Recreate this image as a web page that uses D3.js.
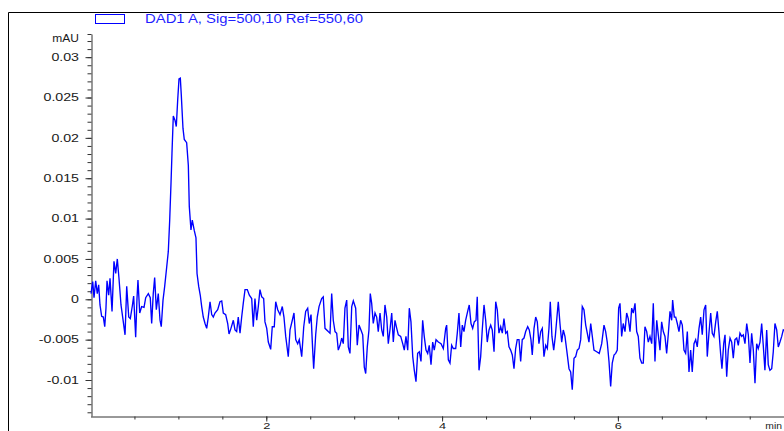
<!DOCTYPE html>
<html><head><meta charset="utf-8">
<script src="https://cdn.jsdelivr.net/npm/d3@7"></script>
<style>body{margin:0;background:#fff}svg{display:block}</style>
</head><body>
<svg id="c" width="784" height="431"></svg>
<script>
// [time (min), signal (mAU)]
const trace = [
[0.006,0.0007],[0.025,0.0022],[0.040,0.0002],[0.059,0.0023],[0.077,0.0007],[0.093,0.0018],[0.108,-0.0007],[0.127,-0.0021],[0.146,-0.0022],[0.162,-0.0034],
[0.176,-0.0011],[0.188,0.0023],[0.207,0.0005],[0.222,0.0026],[0.245,-0.0015],[0.267,0.0047],[0.287,0.0032],[0.305,0.0050],[0.324,0.0026],[0.347,-0.0007],
[0.366,-0.0022],[0.393,-0.0044],[0.412,0.0016],[0.435,-0.0022],[0.453,-0.0024],[0.476,-0.0008],[0.491,0.0004],[0.514,-0.0047],[0.529,0.0001],[0.540,0.0024],
[0.560,-0.0017],[0.582,-0.0009],[0.609,-0.0010],[0.628,0.0002],[0.658,0.0007],[0.680,0.0002],[0.696,-0.0030],[0.714,0.0007],[0.730,0.0027],[0.749,-0.0013],
[0.771,0.0007],[0.791,-0.0026],[0.805,-0.0034],[0.825,-0.0001],[0.844,0.0016],[0.867,0.0040],[0.885,0.0059],[0.901,0.0098],[0.916,0.0144],[0.927,0.0181],
[0.942,0.0227],[0.961,0.0222],[0.976,0.0214],[0.992,0.0247],[1.007,0.0273],[1.022,0.0274],[1.033,0.0253],[1.052,0.0212],[1.067,0.0198],[1.094,0.0194],
[1.113,0.0166],[1.124,0.0115],[1.143,0.0086],[1.158,0.0098],[1.181,0.0085],[1.200,0.0076],[1.212,0.0032],[1.231,0.0016],[1.249,0.0005],[1.265,-0.0009],
[1.283,-0.0022],[1.303,-0.0030],[1.322,-0.0036],[1.340,-0.0022],
[1.360,-0.0003],[1.379,-0.0019],[1.397,-0.0022],[1.416,-0.0017],[1.447,-0.0013],[1.473,-0.0003],[1.493,-0.0002],[1.511,-0.0017],[1.538,-0.0019],[1.561,-0.0030],
[1.576,-0.0043],[1.598,-0.0036],[1.625,-0.0026],[1.644,-0.0038],[1.663,-0.0040],[1.681,-0.0022],[1.701,-0.0042],[1.720,-0.0022],[1.738,-0.0005],[1.758,0.0012],
[1.784,0.0012],[1.807,0.0005],[1.834,0.0001],[1.852,-0.0034],[1.871,0.0001],[1.891,-0.0026],[1.909,-0.0009],[1.928,0.0012],[1.948,0.0003],[1.970,0.0001],
[1.985,-0.0028],[2.005,-0.0036],[2.023,-0.0053],[2.050,-0.0062],[2.068,-0.0034],[2.091,-0.0034],[2.107,-0.0003],[2.130,-0.0013],[2.156,-0.0019],[2.182,-0.0009],
[2.201,-0.0022],[2.221,-0.0046],[2.250,-0.0071],[2.270,-0.0038],[2.296,-0.0026],[2.315,-0.0017],[2.335,-0.0050],[2.357,-0.0055],[2.375,-0.0050],[2.403,-0.0071],
[2.426,-0.0034],[2.448,-0.0015],[2.471,-0.0011],[2.489,-0.0030],[2.509,-0.0019],[2.528,-0.0063],[2.539,-0.0086],[2.562,-0.0044],[2.580,-0.0022],[2.600,-0.0009],
[2.630,0.0001],[2.648,0.0003],[2.668,-0.0036],
[2.705,-0.0040],[2.725,-0.0042],[2.744,0.0007],[2.762,-0.0026],[2.782,-0.0040],[2.801,-0.0042],[2.819,-0.0063],[2.839,-0.0057],[2.858,-0.0048],[2.876,-0.0055],
[2.895,-0.0011],[2.915,-0.0001],[2.933,-0.0059],[2.952,-0.0067],[2.972,-0.0009],[2.990,-0.0002],[3.017,-0.0011],[3.035,-0.0057],[3.055,-0.0032],[3.077,-0.0038],
[3.097,-0.0044],[3.115,-0.0084],[3.131,-0.0092],[3.149,-0.0059],[3.168,-0.0038],[3.183,0.0007],[3.199,-0.0005],[3.217,-0.0030],[3.237,-0.0017],[3.256,-0.0022],
[3.274,-0.0040],[3.294,-0.0017],[3.313,-0.0038],[3.331,-0.0046],[3.350,-0.0007],[3.370,-0.0022],[3.388,-0.0055],[3.407,-0.0038],[3.427,-0.0017],[3.445,-0.0053],
[3.464,-0.0026],[3.484,-0.0036],[3.502,-0.0044],[3.529,-0.0046],[3.552,-0.0055],[3.570,-0.0063],[3.589,-0.0046],[3.609,-0.0063],[3.627,-0.0011],[3.646,-0.0028],
[3.666,-0.0071],[3.684,-0.0088],[3.703,-0.0102],[3.722,-0.0067],[3.741,-0.0065],[3.760,-0.0077],[3.779,-0.0026],[3.797,-0.0046],[3.817,-0.0063],[3.836,-0.0067],
[3.854,-0.0057],[3.874,-0.0081],[3.893,-0.0053],[3.911,-0.0063],[3.931,-0.0050],[3.957,-0.0053],[3.988,-0.0055],[4.014,-0.0061],
[4.041,-0.0036],[4.052,-0.0032],[4.071,-0.0075],[4.090,-0.0079],[4.109,-0.0057],[4.127,-0.0061],[4.155,-0.0061],[4.173,-0.0042],[4.192,-0.0017],[4.212,-0.0059],
[4.230,-0.0032],[4.249,-0.0040],[4.268,-0.0026],[4.291,-0.0015],[4.309,-0.0007],[4.329,-0.0030],[4.348,-0.0036],[4.366,-0.0028],[4.386,-0.0026],[4.400,0.0003],
[4.420,-0.0088],[4.439,-0.0071],[4.457,-0.0038],[4.477,-0.0007],[4.496,-0.0026],[4.514,-0.0053],[4.534,-0.0038],[4.553,-0.0032],[4.571,-0.0038],[4.591,-0.0065],
[4.610,-0.0003],[4.628,-0.0013],[4.647,-0.0042],[4.667,-0.0034],[4.685,-0.0042],[4.704,-0.0024],[4.724,-0.0042],[4.742,-0.0040],[4.761,-0.0059],[4.780,-0.0063],
[4.799,-0.0069],[4.818,-0.0086],[4.837,-0.0061],[4.855,-0.0050],[4.875,-0.0050],[4.894,-0.0077],[4.912,-0.0050],[4.932,-0.0048],[4.951,-0.0040],[4.974,-0.0034],
[4.992,-0.0038],[5.011,-0.0050],[5.026,-0.0069],[5.046,-0.0036],[5.065,-0.0022],[5.083,-0.0028],[5.102,-0.0055],[5.122,-0.0040],[5.140,-0.0036],[5.159,-0.0071],
[5.179,-0.0057],[5.197,-0.0061],[5.216,-0.0036],[5.231,-0.0003],[5.250,-0.0046],[5.270,-0.0063],[5.288,-0.0046],[5.307,-0.0022],[5.322,-0.0003],[5.341,-0.0030],
[5.361,-0.0053],[5.379,-0.0038],[5.398,-0.0046],[5.418,-0.0063],
[5.444,-0.0086],[5.463,-0.0090],[5.481,-0.0112],[5.501,-0.0073],[5.520,-0.0071],[5.538,-0.0063],[5.558,-0.0061],[5.577,-0.0050],[5.595,-0.0009],[5.614,-0.0013],
[5.634,-0.0032],[5.652,-0.0042],[5.671,-0.0053],[5.691,-0.0030],[5.709,-0.0046],[5.728,-0.0063],[5.759,-0.0065],[5.788,-0.0067],[5.816,-0.0055],[5.842,-0.0032],
[5.861,-0.0040],[5.879,-0.0053],[5.899,-0.0077],[5.918,-0.0108],[5.936,-0.0079],[5.956,-0.0069],[5.975,-0.0067],[5.993,-0.0063],[6.009,-0.0011],[6.024,-0.0005],
[6.043,-0.0046],[6.061,-0.0030],[6.081,-0.0040],[6.100,-0.0017],[6.118,-0.0024],[6.138,-0.0040],[6.157,-0.0011],[6.175,-0.0017],[6.195,-0.0005],[6.214,-0.0040],
[6.232,-0.0046],[6.251,-0.0073],[6.271,-0.0079],[6.289,-0.0079],[6.308,-0.0034],[6.328,-0.0040],[6.346,-0.0053],[6.365,-0.0046],[6.385,-0.0055],[6.403,-0.0005],
[6.422,-0.0077],[6.442,-0.0026],[6.460,-0.0044],[6.479,-0.0063],[6.498,-0.0028],[6.517,-0.0040],[6.536,-0.0046],[6.555,-0.0067],[6.573,-0.0044],[6.593,-0.0015],
[6.612,-0.0026],[6.623,-0.0001],[6.642,-0.0022],
[6.658,-0.0022],[6.676,-0.0030],[6.695,-0.0040],[6.714,-0.0026],[6.733,-0.0032],[6.752,-0.0063],[6.771,-0.0067],[6.790,-0.0040],[6.809,-0.0090],[6.828,-0.0063],
[6.846,-0.0090],[6.866,-0.0055],[6.885,-0.0050],[6.903,-0.0059],[6.923,-0.0036],[6.942,-0.0022],[6.960,-0.0044],[6.980,-0.0013],[6.999,-0.0007],[7.017,-0.0071],
[7.036,-0.0042],[7.056,-0.0017],[7.074,-0.0042],[7.093,-0.0046],[7.113,-0.0028],[7.131,-0.0015],[7.150,-0.0040],[7.170,-0.0069],[7.184,-0.0086],[7.204,-0.0055],
[7.219,-0.0044],[7.238,-0.0096],[7.256,-0.0063],[7.276,-0.0048],[7.295,-0.0053],[7.313,-0.0073],[7.332,-0.0050],[7.352,-0.0048],[7.370,-0.0057],[7.389,-0.0042],
[7.409,-0.0046],[7.427,-0.0044],[7.446,-0.0055],[7.466,-0.0030],[7.484,-0.0044],[7.503,-0.0079],[7.522,-0.0042],[7.541,-0.0063],[7.560,-0.0104],[7.579,-0.0055],
[7.597,-0.0061],[7.617,-0.0053],[7.636,-0.0030],[7.654,-0.0057],[7.673,-0.0088],[7.693,-0.0038],[7.711,-0.0081],[7.730,-0.0088],[7.750,-0.0086],[7.768,-0.0065],
[7.787,-0.0030],[7.807,-0.0038],[7.825,-0.0059],[7.844,-0.0053],[7.864,-0.0046],[7.882,-0.0038],[7.910,-0.0040]
];
const yMajorTicks = [-0.01,-0.005,0,0.005,0.01,0.015,0.02,0.025,0.03];
const yTickLabels = ["-0.01","-0.005","0","0.005","0.01","0.015","0.02","0.025","0.03"];
const xMajorTicks = [2,4,6];
const xTickLabels = ["2","4","6"];
const legendLabel = "DAD1 A, Sig=500,10 Ref=550,60";
const yUnit = "mAU";
const xUnit = "min";

const svg = d3.select("#c");
const FONT = "'Liberation Sans', Arial, sans-serif";
const TXT = "#1a1a1a";
const STRETCH = 1.42; // glyphs in the reference are horizontally widened
const x = d3.scaleLinear().domain([0, 7.89]).range([90.5, 784]);
const y = d3.scaleLinear().domain([-0.01446, 0.03287]).range([416, 34]);

// outer frame
svg.append("path").attr("d","M8.5,431V12.5H784").attr("fill","none").attr("stroke","#000").attr("stroke-width",1);

// y minor ticks
const yMinor = d3.range(-14, 33).map(i => i/1000).concat([y.domain()[1]]);
svg.append("g").attr("transform","translate(91.5,0)")
  .call(d3.axisLeft(y).tickValues(yMinor).tickSize(4).tickFormat(""))
  .call(g => g.select(".domain").remove())
  .selectAll("line").attr("stroke","#333");
const gy = svg.append("g").attr("transform","translate(91.5,0)")
  .call(d3.axisLeft(y).tickValues(yMajorTicks).tickSize(6).tickSizeOuter(0).tickPadding(6)
    .tickFormat((d,i) => yTickLabels[i]));
gy.select(".domain").attr("stroke","#333");
gy.selectAll("line").attr("stroke","#333");
gy.selectAll("text").attr("font-family",FONT).attr("font-size",10).attr("fill",TXT)
  .attr("x",0).attr("transform",`translate(-12.5,0) scale(${STRETCH},1)`);

svg.append("text").attr("transform",`translate(79,41.5) scale(1.2,1)`).attr("text-anchor","end")
  .attr("font-family",FONT).attr("font-size",10).attr("fill",TXT).text(yUnit);

// x axis
const xMinor = d3.range(1, 16).map(i => i*0.5);
svg.append("g").attr("transform","translate(0,416.5)")
  .call(d3.axisBottom(x).tickValues(xMinor).tickSize(3).tickFormat(""))
  .call(g => g.select(".domain").remove())
  .selectAll("line").attr("stroke","#333");
const gx = svg.append("g").attr("transform","translate(0,416.5)")
  .call(d3.axisBottom(x).tickValues(xMajorTicks).tickSize(5).tickSizeOuter(0)
    .tickFormat((d,i) => xTickLabels[i]));
gx.select(".domain").attr("stroke","#333");
gx.selectAll("line").attr("stroke","#333");
gx.selectAll("text").attr("font-family",FONT).attr("font-size",9).attr("fill",TXT)
  .attr("y",0).attr("dy",null).attr("transform",`translate(0,12.2) scale(${STRETCH},1)`);
svg.append("text").attr("transform",`translate(782,428.7) scale(1.15,1)`).attr("text-anchor","end")
  .attr("font-family",FONT).attr("font-size",9).attr("fill",TXT).text(xUnit);

// trace
const line = d3.line().x(d => x(d[0])).y(d => y(d[1]));
svg.append("path").datum(trace).attr("d", line).attr("fill","none")
  .attr("stroke","#0000ff").attr("stroke-width",1.35).attr("stroke-linejoin","miter");

// legend
svg.append("rect").attr("x",95.5).attr("y",14.5).attr("width",29).attr("height",9)
  .attr("fill","none").attr("stroke","#0000ff").attr("stroke-width",1);
svg.append("text").attr("x",145).attr("y",23.3).attr("font-family",FONT).attr("font-size",12.5)
  .attr("textLength",218).attr("lengthAdjust","spacingAndGlyphs")
  .attr("fill","#1f1fff").text(legendLabel);
</script>
</body></html>
